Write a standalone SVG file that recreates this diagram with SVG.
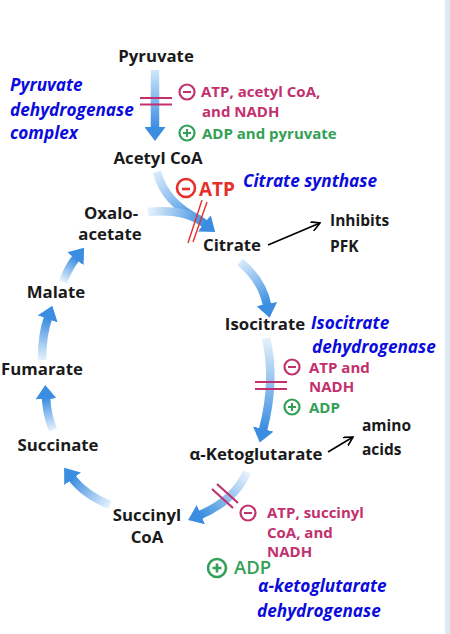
<svg xmlns="http://www.w3.org/2000/svg" width="450" height="634" viewBox="0 0 450 634">
<style>
.lbl{font-family:"Open Sans","Liberation Sans",sans-serif;font-weight:700;font-size:16.8px;fill:#1a1a1a}
.sm{font-size:15.5px}
.enz{font-family:"Open Sans","Liberation Sans",sans-serif;font-weight:700;font-style:italic;font-size:17.2px;fill:#0b0bdc}
.neg{font-family:"Open Sans","Liberation Sans",sans-serif;font-weight:700;font-size:15px;fill:#c2306e}
.pos{font-family:"Open Sans","Liberation Sans",sans-serif;font-weight:700;font-size:15px;fill:#32a055}
.shaft{fill:none;stroke-width:8.5;stroke-linecap:butt}
.ring{fill:none;stroke-width:2.2}
.blk{stroke:#000;stroke-width:1.6;fill:none}
</style>
<defs>
<marker id="head" viewBox="0 0 14 21" refX="1" refY="10.5" markerWidth="14" markerHeight="21" markerUnits="userSpaceOnUse" orient="auto">
<path d="M0,0 L14,10.5 L0,21 z" fill="#3a8de0"/>
</marker>
<marker id="open" viewBox="0 0 10 10" refX="9" refY="5" markerWidth="10" markerHeight="10" markerUnits="userSpaceOnUse" orient="auto">
<path d="M0,0 L9,5 L0,10" fill="none" stroke="#000" stroke-width="1.6"/>
</marker>
<linearGradient id="g1" gradientUnits="userSpaceOnUse" x1="155" y1="70" x2="155" y2="128"><stop offset="0" stop-color="#cfe6fa"/><stop offset="1" stop-color="#3a8de0"/></linearGradient>
<linearGradient id="g2" gradientUnits="userSpaceOnUse" x1="157" y1="172" x2="200" y2="220"><stop offset="0" stop-color="#d8ebfb"/><stop offset="1" stop-color="#3a8de0"/></linearGradient>
<linearGradient id="g3" gradientUnits="userSpaceOnUse" x1="148" y1="212" x2="205" y2="224"><stop offset="0" stop-color="#e6f2fc"/><stop offset="1" stop-color="#3a8de0"/></linearGradient>
<linearGradient id="g4" gradientUnits="userSpaceOnUse" x1="240" y1="262" x2="267" y2="305"><stop offset="0" stop-color="#d8ebfb"/><stop offset="1" stop-color="#3a8de0"/></linearGradient>
<linearGradient id="g5" gradientUnits="userSpaceOnUse" x1="266" y1="338" x2="263" y2="430"><stop offset="0" stop-color="#e6f2fc"/><stop offset="1" stop-color="#3a8de0"/></linearGradient>
<linearGradient id="g6" gradientUnits="userSpaceOnUse" x1="247" y1="472" x2="200" y2="515"><stop offset="0" stop-color="#e6f2fc"/><stop offset="1" stop-color="#3a8de0"/></linearGradient>
<linearGradient id="g7" gradientUnits="userSpaceOnUse" x1="110" y1="505" x2="72" y2="478"><stop offset="0" stop-color="#e6f2fc"/><stop offset="1" stop-color="#3a8de0"/></linearGradient>
<linearGradient id="g8" gradientUnits="userSpaceOnUse" x1="53" y1="430" x2="46" y2="398"><stop offset="0" stop-color="#e6f2fc"/><stop offset="1" stop-color="#3a8de0"/></linearGradient>
<linearGradient id="g9" gradientUnits="userSpaceOnUse" x1="42" y1="360" x2="48" y2="318"><stop offset="0" stop-color="#e6f2fc"/><stop offset="1" stop-color="#3a8de0"/></linearGradient>
<linearGradient id="g10" gradientUnits="userSpaceOnUse" x1="63" y1="282" x2="76" y2="258"><stop offset="0" stop-color="#e6f2fc"/><stop offset="1" stop-color="#3a8de0"/></linearGradient>
</defs>
<rect x="0" y="0" width="450" height="634" fill="#ffffff"/>
<rect x="445" y="0" width="5" height="634" fill="#dde9f3"/>

<g id="connectors">
<path class="shaft" stroke="url(#g1)" d="M155,70 L155,128" marker-end="url(#head)"/>
<path class="shaft" stroke="url(#g2)" d="M157,172 Q165,203 200,220"/>
<path class="shaft" stroke="url(#g3)" d="M148,212 Q185,208 205,224" marker-end="url(#head)"/>
<path class="shaft" stroke="url(#g4)" d="M240,262 Q262,280 267,305" marker-end="url(#head)"/>
<path class="shaft" stroke="url(#g5)" d="M266,338 Q276,380 263,430" marker-end="url(#head)"/>
<path class="shaft" stroke="url(#g6)" d="M247,472 Q235,500 200,515" marker-end="url(#head)"/>
<path class="shaft" stroke="url(#g7)" d="M110,505 Q85,495 72,478" marker-end="url(#head)"/>
<path class="shaft" stroke="url(#g8)" d="M53,430 Q47,415 46,398" marker-end="url(#head)"/>
<path class="shaft" stroke="url(#g9)" d="M42,360 Q42,335 48,318" marker-end="url(#head)"/>
<path class="shaft" stroke="url(#g10)" d="M63,282 Q68,268 76,258" marker-end="url(#head)"/>
<path class="blk" d="M268,245 L320,223" marker-end="url(#open)"/>
<path class="blk" d="M328,452 L353,437" marker-end="url(#open)"/>
</g>

<g id="blocks">
<path d="M140,98 H172 M140,104.5 H172" stroke="#c2306e" stroke-width="2.2"/>
<path d="M188,243 L202,200 M193,242 L207,202" stroke="#e5302a" stroke-width="1.4"/>
<path d="M255,382 H287 M255,389 H287" stroke="#c2306e" stroke-width="2.2"/>
<path d="M212,489 L233,508 M217,484 L238,503" stroke="#c2306e" stroke-width="2.2"/>
</g>

<g id="pyruvate"><text class="lbl" x="156" y="62" text-anchor="middle">Pyruvate</text></g>
<g id="acetylcoa"><text class="lbl" x="158" y="164" text-anchor="middle">Acetyl CoA</text></g>
<g id="oxaloacetate"><text class="lbl" x="111" y="219" text-anchor="middle">Oxalo-</text><text class="lbl" x="110" y="240" text-anchor="middle">acetate</text></g>
<g id="citrate"><text class="lbl" x="232" y="251" text-anchor="middle">Citrate</text></g>
<g id="isocitrate"><text class="lbl" x="265" y="330" text-anchor="middle">Isocitrate</text></g>
<g id="aketoglutarate"><text class="lbl" x="256" y="460" text-anchor="middle">α-Ketoglutarate</text></g>
<g id="succinylcoa"><text class="lbl" x="147" y="521" text-anchor="middle">Succinyl</text><text class="lbl" x="147" y="543" text-anchor="middle">CoA</text></g>
<g id="succinate"><text class="lbl" x="58" y="451" text-anchor="middle">Succinate</text></g>
<g id="fumarate"><text class="lbl" x="42" y="375" text-anchor="middle">Fumarate</text></g>
<g id="malate"><text class="lbl" x="56" y="298" text-anchor="middle">Malate</text></g>
<g id="pfk"><text class="lbl sm" x="330" y="226">Inhibits</text><text class="lbl sm" x="330" y="252">PFK</text></g>
<g id="aminoacids"><text class="lbl sm" x="362" y="431">amino</text><text class="lbl sm" x="362" y="455">acids</text></g>

<g id="pdh">
<text class="enz" x="10" y="91">Pyruvate</text>
<text class="enz" x="10" y="116">dehydrogenase</text>
<text class="enz" x="10" y="139">complex</text>
<circle class="ring" cx="187" cy="92" r="7.5" stroke="#c2306e"/><path d="M183,92 H191" stroke="#c2306e" stroke-width="2"/>
<text class="neg" x="201" y="97">ATP, acetyl CoA,</text>
<text class="neg" x="202" y="117">and NADH</text>
<circle class="ring" cx="187" cy="133" r="7.5" stroke="#32a055"/><path d="M183,133 H191 M187,129 V137" stroke="#32a055" stroke-width="2"/>
<text class="pos" x="202" y="139">ADP and pyruvate</text>
</g>

<g id="cs">
<circle cx="186" cy="188" r="9" fill="none" stroke="#e5302a" stroke-width="2.6"/><path d="M182,189 H190" stroke="#e5302a" stroke-width="2.6"/>
<text x="199" y="196" font-family="Open Sans, Liberation Sans, sans-serif" font-weight="700" font-size="19" fill="#e5302a">ATP</text>
<text class="enz" x="243" y="187">Citrate synthase</text>
</g>

<g id="idh">
<text class="enz" x="311" y="329">Isocitrate</text>
<text class="enz" x="312" y="353">dehydrogenase</text>
<circle class="ring" cx="292" cy="367" r="7.5" stroke="#c2306e"/><path d="M288,367 H296" stroke="#c2306e" stroke-width="2"/>
<text class="neg" x="309" y="373">ATP and</text>
<text class="neg" x="309" y="392">NADH</text>
<circle class="ring" cx="292" cy="407" r="7.5" stroke="#32a055"/><path d="M288,407 H296 M292,403 V411" stroke="#32a055" stroke-width="2"/>
<text class="pos" x="309" y="413">ADP</text>
</g>

<g id="akgdh">
<circle class="ring" cx="248" cy="513" r="7.5" stroke="#c2306e"/><path d="M244,513 H252" stroke="#c2306e" stroke-width="2"/>
<text class="neg" x="267" y="518">ATP, succinyl</text>
<text class="neg" x="267" y="538">CoA, and</text>
<text class="neg" x="267" y="557">NADH</text>
<circle cx="217" cy="568" r="9" fill="none" stroke="#32a055" stroke-width="2.6"/><path d="M212.5,568 H221.5 M217,563.5 V572.5" stroke="#32a055" stroke-width="2.6"/>
<text x="234" y="574" font-family="Open Sans, Liberation Sans, sans-serif" font-weight="600" font-size="18.5" fill="#32a055">ADP</text>
<text class="enz" x="258" y="592">α-ketoglutarate</text>
<text class="enz" x="257" y="617">dehydrogenase</text>
</g>
</svg>
